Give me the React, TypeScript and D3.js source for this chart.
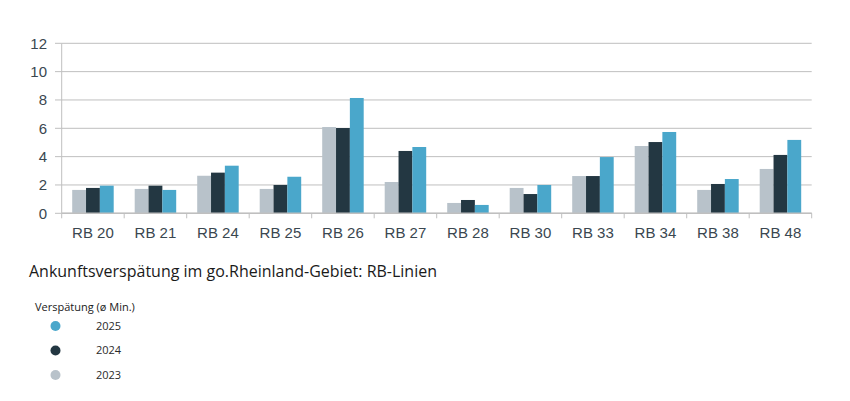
import React from "react";
import * as d3 from "d3";

const categories = ["RB 20", "RB 21", "RB 24", "RB 25", "RB 26", "RB 27", "RB 28", "RB 30", "RB 33", "RB 34", "RB 38", "RB 48"];
const series2023 = [1.65, 1.72, 2.65, 1.72, 6.09, 2.21, 0.73, 1.79, 2.63, 4.75, 1.65, 3.13];
const series2024 = [1.79, 1.95, 2.87, 2.0, 6.02, 4.4, 0.94, 1.36, 2.63, 5.03, 2.07, 4.12];
const series2025 = [1.95, 1.65, 3.36, 2.58, 8.14, 4.68, 0.59, 2.0, 3.97, 5.74, 2.42, 5.18];
const yTicks = [0, 2, 4, 6, 8, 10, 12];
const seriesNames = ["2023", "2024", "2025"];
const legendOrder = ["2025", "2024", "2023"];
const colors: Record<string, string> = { "2023": "#B8C2CA", "2024": "#233742", "2025": "#4AA7CB" };

export default function App() {
  const W = 850, H = 401;
  const left = 61.7, right = 811.7, top = 43.3, bottom = 213.3;
  const x = d3.scaleBand<string>().domain(categories).range([left, right]).paddingInner(0).paddingOuter(0);
  const y = d3.scaleLinear().domain([0, 12]).range([bottom, top]);
  const groupW = 41.5;
  const inner = d3.scaleBand<string>().domain(seriesNames).range([0, groupW]).padding(0);
  const data: Record<string, number[]> = { "2023": series2023, "2024": series2024, "2025": series2025 };
  const axisColor = "#BFBFBF";
  const textColor = "#3A4750";
  return (
    <svg width={W} height={H} style={{ position: "absolute", left: 0, top: 0 }}>
      <rect width={W} height={H} fill="#fff" />
      {yTicks.map((t) => (
        <g key={t}>
          <line x1={t === 0 ? left : left} x2={right} y1={y(t)} y2={y(t)} stroke={axisColor} strokeWidth={1} />
          <line x1={55} x2={left} y1={y(t)} y2={y(t)} stroke={axisColor} strokeWidth={1} />
          <text x={47} y={y(t)} dy="0.35em" textAnchor="end" fontFamily="Liberation Sans, Arial, sans-serif" fontSize={15} fill={textColor}>{t}</text>
        </g>
      ))}
      <line x1={left} x2={left} y1={top} y2={bottom} stroke={axisColor} strokeWidth={1} />
      {categories.map((c, i) => {
        const x0 = x(c)!;
        const gx = x0 + (x.bandwidth() - groupW) / 2;
        return (
          <g key={c}>
            <line x1={x0} x2={x0} y1={bottom} y2={bottom + 5} stroke={axisColor} />
            {seriesNames.map((s) => (
              <rect key={s} x={gx + inner(s)!} width={inner.bandwidth()} y={y(data[s][i])} height={bottom - y(data[s][i])} fill={colors[s]} />
            ))}
            <text x={x0 + x.bandwidth() / 2} y={237.5} textAnchor="middle" fontFamily="Liberation Sans, Arial, sans-serif" fontSize={15} fill={textColor}>{c}</text>
          </g>
        );
      })}
      <line x1={right} x2={right} y1={bottom} y2={bottom + 5} stroke={axisColor} />
      <line x1={left} x2={right} y1={bottom} y2={bottom} stroke={axisColor} strokeWidth={1.5} />
      <text x={29} y={277} fontFamily="Open Sans, Noto Sans, sans-serif" fontSize={15.5} fill="#1a1a1a" textLength={408} lengthAdjust="spacingAndGlyphs">Ankunftsverspätung im go.Rheinland-Gebiet: RB-Linien</text>
      <text x={35} y={311} fontFamily="Open Sans, Noto Sans, sans-serif" fontSize={11} fill="#1a1a1a">Verspätung (ø Min.)</text>
      {legendOrder.map((s, i) => (
        <g key={s}>
          <circle cx={55.5} cy={326 + i * 24.5} r={5} fill={colors[s]} />
          <text x={96} y={326 + i * 24.5} dy="0.35em" fontFamily="Open Sans, Noto Sans, sans-serif" fontSize={11} fill="#2a2a2a">{s}</text>
        </g>
      ))}
    </svg>
  );
}
